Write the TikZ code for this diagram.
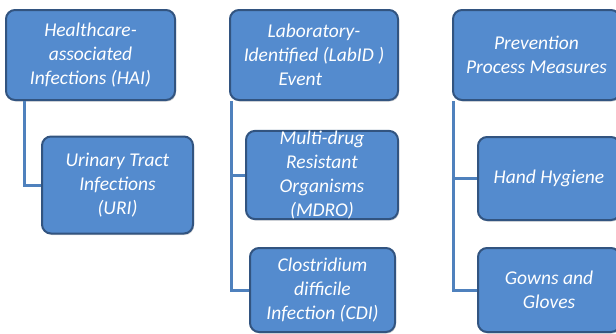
\documentclass[tikz,border=0pt]{standalone}
\usepackage{fontspec}
\setmainfont{Carlito}
\usepackage{tikz}
\usetikzlibrary{shadows}
\definecolor{boxblue}{RGB}{84,139,206}
\definecolor{boxedge}{RGB}{50,84,128}
\definecolor{linkblue}{RGB}{79,129,189}

\begin{document}
\begin{tikzpicture}[x=1pt,y=-1pt,
  box/.style={draw=boxedge, line width=2pt, fill=boxblue, rounded corners=9pt,
    text=white, font=\itshape\fontsize{19.5}{24}\selectfont, align=center,
    inner sep=0pt, drop shadow={shadow xshift=1pt, shadow yshift=-1.5pt, opacity=0.35}},
  link/.style={linkblue, line width=3pt}]
\useasboundingbox (0,0) rectangle (616,333);
\clip (0,0) rectangle (616,333);

\node[box, minimum width=169pt, minimum height=90pt] (hai) at (90.5,55) {Healthcare-\\associated\\Infections (HAI)};
\node[box, minimum width=151pt, minimum height=97pt] (uri) at (117.5,185) {Urinary Tract\\Infections\\(URI)};

\node[box, minimum width=168pt, minimum height=90pt] (labid) at (314,55) {Laboratory-\\Identified (LabID )\\Event\hspace*{1.4em}};
\node[box, minimum width=152pt, minimum height=88pt] (mdro) at (322,175) {Multi-drug\\Resistant\\Organisms\\(MDRO)};
\node[box, minimum width=145pt, minimum height=84pt] (cdi) at (322.5,290) {Clostridium\\difficile\\Infection (CDI)};

\node[box, minimum width=167pt, minimum height=90pt] (ppm) at (536.5,55) {Prevention\\Process Measures};
\node[box, minimum width=142pt, minimum height=83pt] (hh) at (549,178.5) {Hand Hygiene};
\node[box, minimum width=142pt, minimum height=84pt] (gg) at (549,290) {Gowns and\\Gloves};

\draw[link] ([xshift=19pt]hai.south west) |- (uri.west);
\draw[link] ([xshift=2pt]labid.south west) |- (mdro.west);
\draw[link] ([xshift=2pt]labid.south west) |- (cdi.west);
\draw[link] ([xshift=1pt]ppm.south west) |- (hh.west);
\draw[link] ([xshift=1pt]ppm.south west) |- (gg.west);
\end{tikzpicture}
\end{document}
